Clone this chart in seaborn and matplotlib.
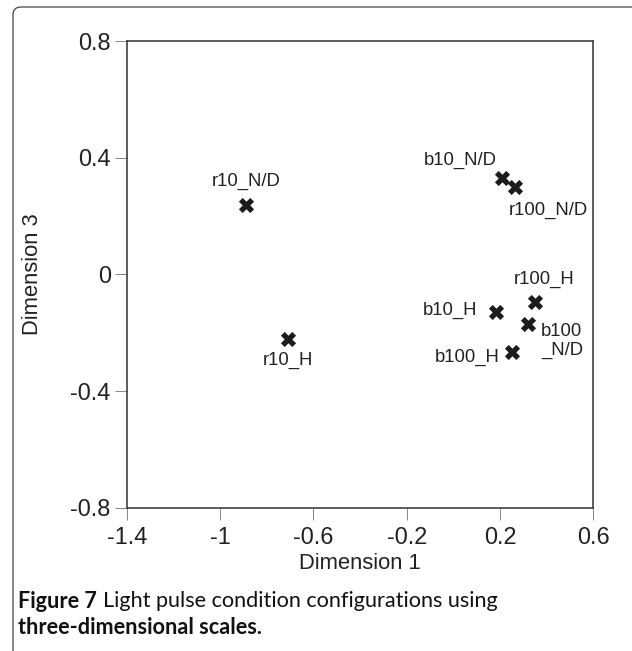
import matplotlib
matplotlib.use("Agg")
import matplotlib.pyplot as plt
from matplotlib.patches import FancyBboxPatch
import seaborn as sns

# MDS configuration values
labels = ['r10_N/D', 'r10_H', 'b10_N/D', 'r100_N/D', 'r100_H', 'b10_H', 'b100\n_N/D', 'b100_H']
dim1 = [-0.89, -0.71, 0.21, 0.264, 0.35, 0.183, 0.32, 0.253]
dim3 = [0.238, -0.223, 0.329, 0.30, -0.094, -0.128, -0.17, -0.266]
xticks = [-1.4, -1, -0.6, -0.2, 0.2, 0.6]
yticks = [0.8, 0.4, 0, -0.4, -0.8]

# label placement (offset in px, alignment)
offsets = [(1, 24, 'center'), (0, -21, 'center'), (-42, 18, 'center'), (33, -24, 'center'),
           (9, 22, 'center'), (-19, 1, 'right'), (13, -17, 'left'), (-13, -5, 'right')]

sns.set_style('white')
plt.rcParams['font.family'] = ['Liberation Sans', 'DejaVu Sans']

fig = plt.figure(figsize=(632 / 72, 651 / 72), dpi=72)
ax = fig.add_axes([126.7 / 632, 1 - 507.7 / 651, 466.6 / 632, 466.7 / 651])

sns.scatterplot(x=dim1, y=dim3, marker='X', s=230, color='#1c1c1c', linewidth=0, ax=ax)

for lab, x, y, (dx, dy, ha) in zip(labels, dim1, dim3, offsets):
    ax.annotate(lab, (x, y), xytext=(dx, dy), textcoords='offset points',
                ha=ha, va='center', fontsize=18.5, color='#222222')

ax.set_xlim(-1.4, 0.6)
ax.set_ylim(-0.8, 0.8)
ax.set_xticks(xticks)
ax.set_xticklabels([f'{t:g}' for t in xticks])
ax.set_yticks(yticks)
ax.set_yticklabels([f'{t:g}' for t in yticks])
ax.tick_params(axis='both', direction='out', length=12, width=1, color='#8a8a8a',
               labelsize=23.5, labelcolor='#222222', bottom=True, left=True)
ax.tick_params(axis='x', pad=7)
ax.tick_params(axis='y', pad=4)
for sp in ax.spines.values():
    sp.set_visible(True)
    sp.set_color('#3a3a3a')
    sp.set_linewidth(1.6)

ax.set_xlabel('Dimension 1', fontsize=22, color='#222222')
ax.set_ylabel('Dimension 3', fontsize=22, color='#222222')
ax.xaxis.set_label_coords(0.5, -0.097)
ax.yaxis.set_label_coords(-0.18, 0.5)

# caption: bold "Figure 7" followed by regular text on the same line
cap_kw = dict(fontsize=21.6, family='Lato', va='center', ha='left', color='#111111')
t1 = fig.text(18 / 632, 1 - 601 / 651, 'Figure 7', fontweight='bold', **cap_kw)
renderer = fig.canvas.get_renderer()
x_end = t1.get_window_extent(renderer).x1
fig.text((x_end + 6) / 632, 1 - 601 / 651, 'Light pulse condition configurations using', **cap_kw)
fig.text(18 / 632, 1 - 628 / 651, 'three-dimensional scales.', fontweight='bold', **cap_kw)

# rounded frame around the figure panel
frame = FancyBboxPatch((13, -40), 700, 644 + 40, boxstyle='round,pad=0,rounding_size=8',
                       transform=None, fill=False, edgecolor='#3c3c3c', linewidth=1.2,
                       clip_on=False)
fig.patches.append(frame)

fig.savefig('out.png', dpi=72)
